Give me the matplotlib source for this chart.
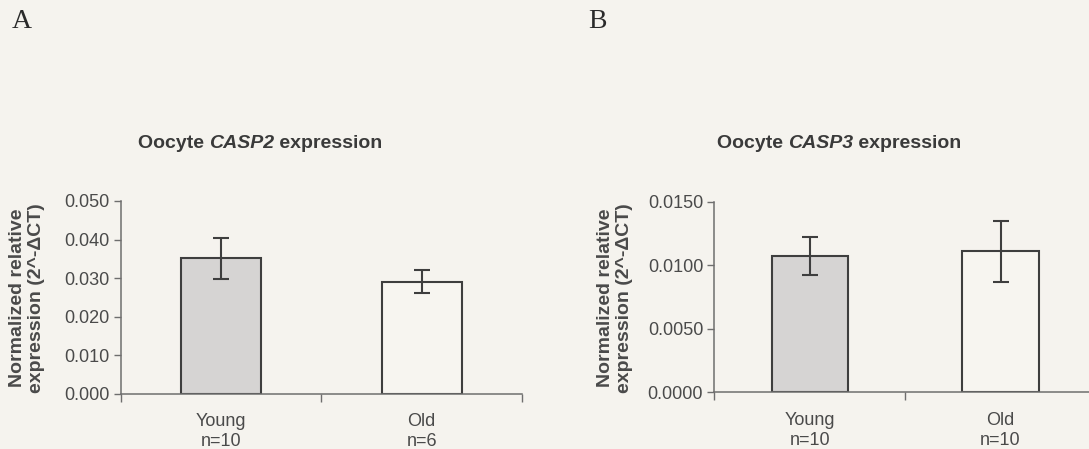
import matplotlib
matplotlib.use("Agg")
import matplotlib.pyplot as plt
from matplotlib.ticker import FixedLocator, NullFormatter
from matplotlib.transforms import offset_copy

# Oocyte caspase expression, young vs old (mean, SEM)
groups = ["Young", "Old"]
casp2_n = [10, 6]
casp2_mean = [0.0351, 0.0291]
casp2_err = [0.0054, 0.0030]
casp2_ticks = [0.000, 0.010, 0.020, 0.030, 0.040, 0.050]

casp3_n = [10, 10]
casp3_mean = [0.0107, 0.0111]
casp3_err = [0.0015, 0.0024]
casp3_ticks = [0.0000, 0.0050, 0.0100, 0.0150]

BG = "#f5f3ee"
BAR_FILL = ["#d6d4d3", "#f7f5f0"]
EDGE = "#3e3e3e"
AXIS = "#6e6e6e"
TEXT = "#4a4a4a"
SANS = "Liberation Sans"

fig = plt.figure(figsize=(10.89, 4.49), dpi=100, facecolor=BG)


def panel(rect, means, errs, ns, ticks, fmt, ymax):
    ax = fig.add_axes(rect, facecolor=BG)
    x = list(range(len(groups)))
    ax.bar(x, means, width=0.4, color=BAR_FILL, edgecolor=EDGE,
           linewidth=1.5, zorder=2)
    ax.errorbar(x, means, yerr=errs, fmt="none", ecolor=EDGE,
                elinewidth=1.5, capsize=6, capthick=1.5, zorder=3)
    ax.set_xlim(-0.5, len(groups) - 0.5)
    ax.set_ylim(0, ymax)
    for s in ("top", "right"):
        ax.spines[s].set_visible(False)
    for s in ("left", "bottom"):
        ax.spines[s].set_color(AXIS)
        ax.spines[s].set_linewidth(1.1)
    ax.set_yticks(ticks)
    ax.set_yticklabels([fmt.format(t) for t in ticks], fontsize=13,
                       color=TEXT, family=SANS)
    ax.tick_params(axis="y", length=5, width=1.0, color=AXIS, pad=3)
    # category dividers as major ticks, group labels as minor ticks
    ax.xaxis.set_major_locator(FixedLocator([-0.5, 0.5, 1.5]))
    ax.xaxis.set_major_formatter(NullFormatter())
    ax.tick_params(axis="x", which="major", length=6, width=1.0, color=AXIS)
    ax.set_xticks(x, minor=True)
    ax.set_xticklabels([f"{g}\nn={n}" for g, n in zip(groups, ns)],
                       minor=True, fontsize=13, color=TEXT, family=SANS,
                       linespacing=1.25)
    ax.tick_params(axis="x", which="minor", length=0, pad=14)
    return ax


axA = panel([0.1111, 0.1232, 0.3682, 0.4292], casp2_mean, casp2_err,
            casp2_n, casp2_ticks, "{:.3f}", 0.050)
axB = panel([0.6559, 0.1263, 0.3505, 0.4245], casp3_mean, casp3_err,
            casp3_n, casp3_ticks, "{:.4f}", 0.015)

ylab = "Normalized relative\nexpression (2^-ΔCT)"
for cx in (27, 615):
    fig.text(cx / 1089, 1 - 298 / 449, ylab, rotation=90, ha="center",
             va="center", fontsize=14, fontweight="bold", color=TEXT,
             family=SANS, linespacing=1.1, multialignment="center")

# titles: plain bold words around a bold-italic gene name
renderer = fig.canvas.get_renderer()
title_kw = dict(fontsize=14, fontweight="bold", color="#3a3a3a",
                family=SANS, va="center", ha="left")
for cx, gene in ((260, "CASP2"), (839, "CASP3")):
    parts = [("Oocyte ", "normal"), (gene, "italic"), (" expression", "normal")]
    # measure total width first
    widths = []
    for txt, style in parts:
        t = fig.text(0, 0, txt.replace(" ", "\u00a0"), style=style, **title_kw)
        widths.append(t.get_window_extent(renderer).width)
        t.remove()
    x0 = cx - sum(widths) / 2
    for (txt, style), w in zip(parts, widths):
        fig.text(x0 / 1089, 1 - 143 / 449, txt.replace(" ", "\u00a0"),
                 style=style, **title_kw)
        x0 += w

fig.text(22 / 1089, 1 - 21 / 449, "A", fontsize=20, family="Liberation Serif",
         color="#2a2a2a", ha="center", va="center")
fig.text(597 / 1089, 1 - 22 / 449, "B", fontsize=20, family="Liberation Serif",
         color="#2a2a2a", ha="center", va="center")

fig.savefig("out.png", dpi=100, facecolor=BG)
